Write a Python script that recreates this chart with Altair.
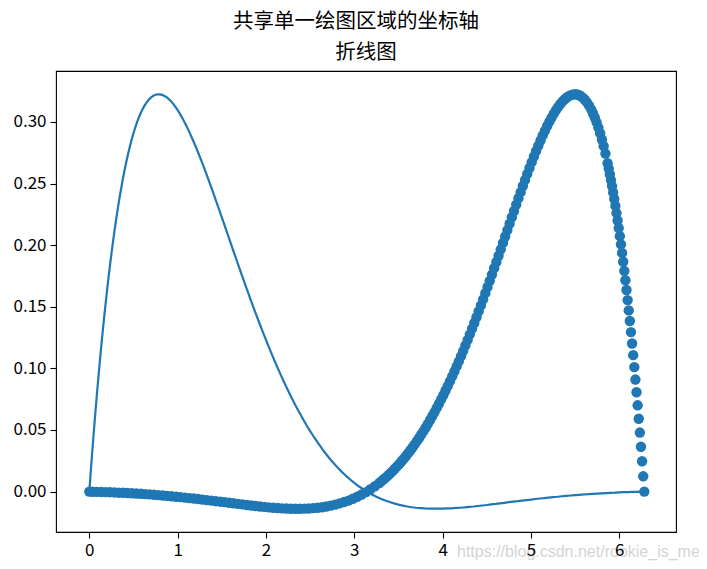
import altair as alt
import pandas as pd

# curve: x positions and values (thin line)
curve_x = [
    0.0, 0.0126, 0.0252, 0.0378, 0.0504, 0.0630, 0.0756, 0.0881, 0.1007, 0.1133,
    0.1259, 0.1385, 0.1511, 0.1637, 0.1763, 0.1889, 0.2015, 0.2141, 0.2266, 0.2392,
    0.2518, 0.2644, 0.2770, 0.2896, 0.3022, 0.3148, 0.3274, 0.3400, 0.3526, 0.3652,
    0.3777, 0.3903, 0.4029, 0.4155,
    0.44, 0.46, 0.48, 0.50, 0.52, 0.54, 0.56, 0.58, 0.60,
    0.625, 0.65, 0.675, 0.70, 0.725, 0.75, 0.775, 0.80, 0.825, 0.85, 0.875, 0.90,
    0.925, 0.95, 0.975, 1.0,
    1.025, 1.05, 1.075, 1.1, 1.125, 1.15, 1.175, 1.2, 1.225, 1.25, 1.275, 1.3,
    1.325, 1.35, 1.375, 1.4, 1.425, 1.45, 1.475, 1.5, 1.525, 1.55, 1.575, 1.6,
    1.625, 1.65, 1.675, 1.7, 1.725, 1.75, 1.775, 1.8, 1.825, 1.85, 1.875, 1.9,
    1.925, 1.95, 1.975, 2.0,
    2.025, 2.05, 2.075, 2.1, 2.125, 2.15, 2.175, 2.2, 2.225, 2.25, 2.275, 2.3,
    2.325, 2.35, 2.375, 2.4, 2.425, 2.45, 2.475, 2.5, 2.525, 2.55, 2.575, 2.6,
    2.625, 2.65, 2.675, 2.7, 2.725, 2.75, 2.775, 2.8, 2.825, 2.85, 2.875, 2.9,
    2.925, 2.95, 2.975, 3.0,
    3.05, 3.1, 3.15, 3.2, 3.25, 3.3, 3.35, 3.4, 3.45, 3.5,
    3.55, 3.6, 3.65, 3.7, 3.75, 3.8, 3.85, 3.9, 3.95, 4.0,
    4.05, 4.1, 4.15, 4.2, 4.25, 4.3, 4.35, 4.4, 4.45, 4.5,
    4.55, 4.6, 4.65, 4.7, 4.75, 4.8, 4.85, 4.9, 4.95, 5.0,
    5.05, 5.1, 5.15, 5.2, 5.25, 5.3, 5.35, 5.4, 5.45, 5.5,
    5.55, 5.6, 5.65, 5.7, 5.75, 5.8, 5.85, 5.9, 5.95, 6.0,
    6.05, 6.1, 6.15, 6.2, 6.25, 6.2832,
]

curve_y = [
    0.0, 0.0124, 0.0246, 0.0364, 0.0479, 0.0591, 0.0700, 0.0806, 0.0909, 0.1010,
    0.1107, 0.1202, 0.1294, 0.1384, 0.1470, 0.1554, 0.1636, 0.1715, 0.1791, 0.1865,
    0.1937, 0.2006, 0.2073, 0.2138, 0.2200, 0.2260, 0.2318, 0.2374, 0.2427, 0.2479,
    0.2528, 0.2575, 0.2621, 0.2664,
    0.2743, 0.2803, 0.2857, 0.2908, 0.2954, 0.2996, 0.3034, 0.3068, 0.3099,
    0.3132, 0.3159, 0.3182, 0.3199, 0.3212, 0.3220, 0.3224, 0.3223, 0.3219, 0.3211,
    0.3200, 0.3185, 0.3167, 0.3146, 0.3122, 0.3096,
    0.3067, 0.3035, 0.3002, 0.2967, 0.2929, 0.2890, 0.2849, 0.2807, 0.2764, 0.2719,
    0.2673, 0.2626, 0.2578, 0.2529, 0.2480, 0.2430, 0.2380, 0.2329, 0.2277, 0.2226,
    0.2174, 0.2122, 0.2070, 0.2018, 0.1966, 0.1914, 0.1863, 0.1812, 0.1761, 0.1710,
    0.1660, 0.1610, 0.1560, 0.1511, 0.1463, 0.1415, 0.1368, 0.1322, 0.1276, 0.1231,
    0.1186, 0.1142, 0.1099, 0.1057, 0.1016, 0.0975, 0.0935, 0.0896, 0.0858, 0.0820,
    0.0783, 0.0748, 0.0713, 0.0679, 0.0645, 0.0613, 0.0581, 0.0550, 0.0520, 0.0491,
    0.0463, 0.0435, 0.0409, 0.0383, 0.0358, 0.0333, 0.0310, 0.0287, 0.0265, 0.0244,
    0.0223, 0.0204, 0.0185, 0.0166, 0.0149, 0.0132, 0.0115, 0.0100, 0.0085, 0.0070,
    0.0043, 0.0019, -0.0004, -0.0024, -0.0042, -0.0058, -0.0073, -0.0085, -0.0096, -0.0106,
    -0.0114, -0.0121, -0.0127, -0.0131, -0.0134, -0.0137, -0.0138, -0.0139, -0.0139, -0.0139,
    -0.0137, -0.0136, -0.0133, -0.0131, -0.0128, -0.0124, -0.0121, -0.0117, -0.0113, -0.0109,
    -0.0104, -0.0100, -0.0095, -0.0091, -0.0086, -0.0082, -0.0078, -0.0073, -0.0069, -0.0065,
    -0.0060, -0.0056, -0.0053, -0.0049, -0.0045, -0.0042, -0.0038, -0.0035, -0.0032, -0.0029,
    -0.0026, -0.0023, -0.0021, -0.0018, -0.0016, -0.0014, -0.0012, -0.0010, -0.0009, -0.0007,
    -0.0005, -0.0004, -0.0003, -0.0002, -0.0001, 0.0,
]

# scatter dots: x positions (mirror of the curve);
# their heights are the same values as curve_y, point by point
dots_x = [
    6.2832, 6.2706, 6.2580, 6.2454, 6.2328, 6.2202, 6.2076, 6.1951, 6.1825, 6.1699,
    6.1573, 6.1447, 6.1321, 6.1195, 6.1069, 6.0943, 6.0817, 6.0691, 6.0566, 6.0440,
    6.0314, 6.0188, 6.0062, 5.9936, 5.9810, 5.9684, 5.9558, 5.9432, 5.9306, 5.9180,
    5.9055, 5.8929, 5.8803, 5.8677,
    5.8432, 5.8232, 5.8032, 5.7832, 5.7632, 5.7432, 5.7232, 5.7032, 5.6832,
    5.6582, 5.6332, 5.6082, 5.5832, 5.5582, 5.5332, 5.5082, 5.4832, 5.4582, 5.4332,
    5.4082, 5.3832, 5.3582, 5.3332, 5.3082, 5.2832,
    5.2582, 5.2332, 5.2082, 5.1832, 5.1582, 5.1332, 5.1082, 5.0832, 5.0582, 5.0332,
    5.0082, 4.9832, 4.9582, 4.9332, 4.9082, 4.8832, 4.8582, 4.8332, 4.8082, 4.7832,
    4.7582, 4.7332, 4.7082, 4.6832, 4.6582, 4.6332, 4.6082, 4.5832, 4.5582, 4.5332,
    4.5082, 4.4832, 4.4582, 4.4332, 4.4082, 4.3832, 4.3582, 4.3332, 4.3082, 4.2832,
    4.2582, 4.2332, 4.2082, 4.1832, 4.1582, 4.1332, 4.1082, 4.0832, 4.0582, 4.0332,
    4.0082, 3.9832, 3.9582, 3.9332, 3.9082, 3.8832, 3.8582, 3.8332, 3.8082, 3.7832,
    3.7582, 3.7332, 3.7082, 3.6832, 3.6582, 3.6332, 3.6082, 3.5832, 3.5582, 3.5332,
    3.5082, 3.4832, 3.4582, 3.4332, 3.4082, 3.3832, 3.3582, 3.3332, 3.3082, 3.2832,
    3.2332, 3.1832, 3.1332, 3.0832, 3.0332, 2.9832, 2.9332, 2.8832, 2.8332, 2.7832,
    2.7332, 2.6832, 2.6332, 2.5832, 2.5332, 2.4832, 2.4332, 2.3832, 2.3332, 2.2832,
    2.2332, 2.1832, 2.1332, 2.0832, 2.0332, 1.9832, 1.9332, 1.8832, 1.8332, 1.7832,
    1.7332, 1.6832, 1.6332, 1.5832, 1.5332, 1.4832, 1.4332, 1.3832, 1.3332, 1.2832,
    1.2332, 1.1832, 1.1332, 1.0832, 1.0332, 0.9832, 0.9332, 0.8832, 0.8332, 0.7832,
    0.7332, 0.6832, 0.6332, 0.5832, 0.5332, 0.4832, 0.4332, 0.3832, 0.3332, 0.2832,
    0.2332, 0.1832, 0.1332, 0.0832, 0.0332, 0.0,
]

x_ticks = [0, 1, 2, 3, 4, 5, 6]
y_ticks = [0.0, 0.05, 0.10, 0.15, 0.20, 0.25, 0.30]

suptitle_text = "共享单一绘图区域的坐标轴"
title_text = "折线图"
watermark_text = "https://blog.csdn.net/rookie_is_me"

BLUE = "#1f77b4"
FONT = "Noto Sans CJK SC"

curve = pd.DataFrame({"x": curve_x, "y": curve_y})
dots = pd.DataFrame({"x": dots_x, "y": curve_y})

xs = alt.Scale(domain=[-0.377, 6.642], nice=False, zero=False)
ys = alt.Scale(domain=[-0.0328, 0.3413], nice=False, zero=False)

common_axis = dict(
    title=None, grid=False, domain=False, tickSize=6, tickWidth=1.1,
    tickColor="black", labelColor="black", labelFont=FONT, labelFontSize=17,
    labelPadding=4, zindex=1, labelOverlap=False,
)
xaxis = alt.Axis(values=x_ticks, format="d", **common_axis)
yaxis = alt.Axis(values=y_ticks, format=".2f", **common_axis)

dots_layer = alt.Chart(dots).mark_circle(size=108, color=BLUE, opacity=1).encode(
    x=alt.X("x:Q", scale=xs, axis=xaxis),
    y=alt.Y("y:Q", scale=ys, axis=yaxis),
)

line_layer = alt.Chart(curve).mark_line(color=BLUE, strokeWidth=2.2).encode(
    x=alt.X("x:Q", scale=xs, axis=xaxis),
    y=alt.Y("y:Q", scale=ys, axis=yaxis),
)

sup_layer = alt.Chart(pd.DataFrame({"t": [suptitle_text]})).mark_text(
    font=FONT, fontSize=20.5, color="black", align="center", baseline="middle"
).encode(x=alt.value(300), y=alt.value(-49), text="t:N")

title_layer = alt.Chart(pd.DataFrame({"t": [title_text]})).mark_text(
    font=FONT, fontSize=20.5, color="black", align="center", baseline="middle"
).encode(x=alt.value(310), y=alt.value(-18), text="t:N")

wm_layer = alt.Chart(pd.DataFrame({"t": [watermark_text]})).mark_text(
    font="Liberation Sans", fontSize=16, color="#d4d4d4", align="left", baseline="middle"
).encode(x=alt.value(401), y=alt.value(481), text="t:N")

chart = (
    alt.layer(dots_layer, line_layer, sup_layer, title_layer, wm_layer)
    .properties(
        width=620,
        height=461,
        autosize=alt.AutoSizeParams(type="none"),
        padding={"left": 48, "top": 63, "right": 23, "bottom": 29},
    )
    .configure_view(stroke="black", strokeWidth=1.1)
)

chart.save("out.html", embed_options={"renderer": "svg", "actions": False})
